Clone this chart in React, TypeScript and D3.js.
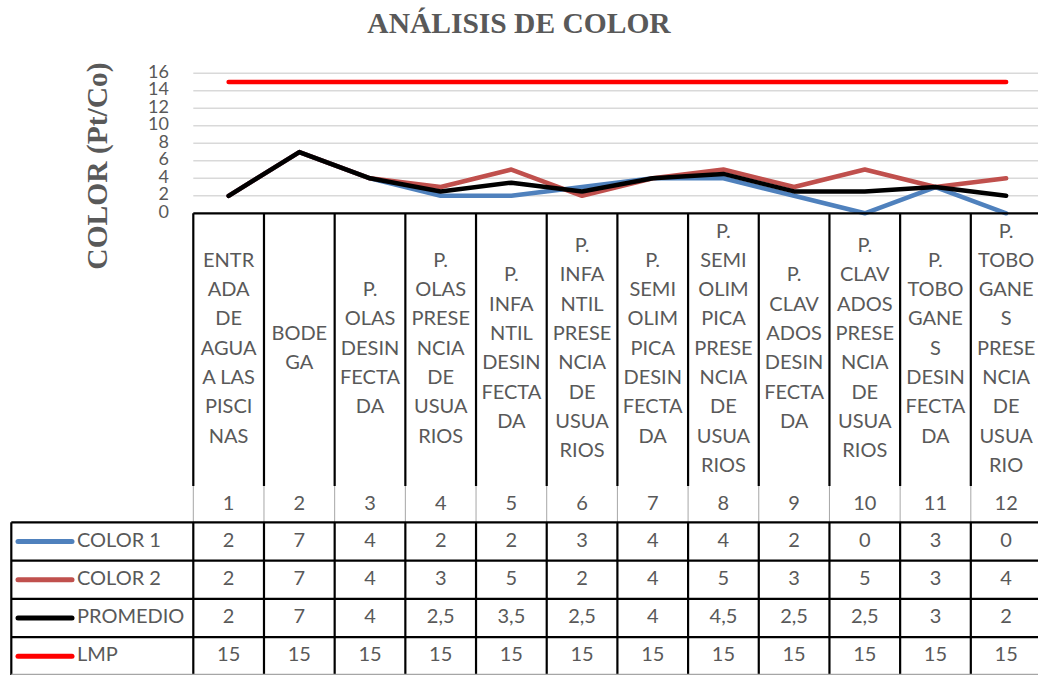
import * as d3 from 'd3';

const title = 'ANÁLISIS DE COLOR';
const yTitle = 'COLOR (Pt/Co)';

const ids = ['1', '2', '3', '4', '5', '6', '7', '8', '9', '10', '11', '12'];
const categoryLines = [
  ['ENTR', 'ADA', 'DE', 'AGUA', 'A LAS', 'PISCI', 'NAS'],
  ['BODE', 'GA'],
  ['P.', 'OLAS', 'DESIN', 'FECTA', 'DA'],
  ['P.', 'OLAS', 'PRESE', 'NCIA', 'DE', 'USUA', 'RIOS'],
  ['P.', 'INFA', 'NTIL', 'DESIN', 'FECTA', 'DA'],
  ['P.', 'INFA', 'NTIL', 'PRESE', 'NCIA', 'DE', 'USUA', 'RIOS'],
  ['P.', 'SEMI', 'OLIM', 'PICA', 'DESIN', 'FECTA', 'DA'],
  ['P.', 'SEMI', 'OLIM', 'PICA', 'PRESE', 'NCIA', 'DE', 'USUA', 'RIOS'],
  ['P.', 'CLAV', 'ADOS', 'DESIN', 'FECTA', 'DA'],
  ['P.', 'CLAV', 'ADOS', 'PRESE', 'NCIA', 'DE', 'USUA', 'RIOS'],
  ['P.', 'TOBO', 'GANE', 'S', 'DESIN', 'FECTA', 'DA'],
  ['P.', 'TOBO', 'GANE', 'S', 'PRESE', 'NCIA', 'DE', 'USUA', 'RIO'],
];

const color1 = [2, 7, 4, 2, 2, 3, 4, 4, 2, 0, 3, 0];
const color2 = [2, 7, 4, 3, 5, 2, 4, 5, 3, 5, 3, 4];
const promedio = [2, 7, 4, 2.5, 3.5, 2.5, 4, 4.5, 2.5, 2.5, 3, 2];
const lmp = [15, 15, 15, 15, 15, 15, 15, 15, 15, 15, 15, 15];

const seriesNames = ['COLOR 1', 'COLOR 2', 'PROMEDIO', 'LMP'];
const seriesColors = ['#4F81BD', '#C0504D', '#000000', '#FF0000'];
const seriesValues = [color1, color2, promedio, lmp];

const yTicks = [0, 2, 4, 6, 8, 10, 12, 14, 16];

const W = 1038;
const H = 675;
const FONT = 'Lato, "Open Sans", sans-serif';
const SERIF = '"Liberation Serif", "Times New Roman", serif';
const GRAY = '#595959';

export default function App() {
  const plotLeft = 193.3;
  const plotRight = 1041.5;
  const plotTop = 73.3;
  const plotBottom = 213.3;
  const catBottom = 486;
  const headBottom = 522.3;
  const rowH = 38.3;
  const tableLeft = 11.3;
  const lineH = 29.3;

  const x = d3.scaleBand<string>().domain(ids).range([plotLeft, plotRight]);
  const y = d3.scaleLinear().domain([0, 16]).range([plotBottom, plotTop]);
  const cx = (i: number) => (x(ids[i]) as number) + x.bandwidth() / 2;

  const line = d3.line<number>()
    .x((_, i) => cx(i))
    .y((d) => y(d));

  const edges = ids.map((id) => x(id) as number).concat([plotRight]);
  const catMid = (plotBottom + catBottom) / 2;

  // decimal comma like the source sheet
  const fmt = (v: number) => String(v).replace('.', ',');

  return (
    <div style={{ position: 'fixed', left: 0, top: 0 }}>
      <svg width={W} height={H} style={{ display: 'block', background: '#fff' }}>
        <text x={519} y={33} textAnchor="middle" fontFamily={SERIF}
          fontWeight="bold" fontSize={29.5} fill={GRAY}>{title}</text>
        <text transform={`translate(107,166) rotate(-90)`} textAnchor="middle"
          fontFamily={SERIF} fontWeight="bold" fontSize={29.5} fill={GRAY}>
          {yTitle}
        </text>

        {yTicks.map((t) => (
          <g key={t}>
            {t > 0 && (
              <line x1={plotLeft} x2={W} y1={y(t)} y2={y(t)} stroke="#d9d9d9" strokeWidth={1.5} />
            )}
            <text x={169} y={y(t)} textAnchor="end" dominantBaseline="middle" fontFamily={FONT}
              fontSize={18} fill={GRAY}>{t}</text>
          </g>
        ))}

        {seriesValues.map((vals, si) => (
          <path key={si} d={line(vals) || ''} fill="none" stroke={seriesColors[si]} strokeWidth={4.5}
            strokeLinejoin="round" strokeLinecap="round" />
        ))}

        {/* data table grid */}
        <g stroke="#000" strokeWidth={2.2}>
          <line x1={plotLeft} x2={W} y1={plotBottom} y2={plotBottom} />
          {edges.map((ex, i) => (
            <g key={i}>
              <line x1={ex} x2={ex} y1={plotBottom} y2={catBottom} />
              <line x1={ex} x2={ex} y1={catBottom} y2={headBottom} stroke="#a6a6a6" strokeWidth={1} />
              <line x1={ex} x2={ex} y1={headBottom} y2={H} />
            </g>
          ))}
          <line x1={tableLeft} x2={tableLeft} y1={headBottom} y2={H} />
          {seriesNames.map((_, ri) => (
            <line key={ri} x1={tableLeft} x2={W} y1={headBottom + ri * rowH} y2={headBottom + ri * rowH} />
          ))}
          <line x1={tableLeft} x2={W} y1={headBottom + 4 * rowH - 1} y2={headBottom + 4 * rowH - 1}
            stroke="#a6a6a6" strokeWidth={1.5} />
        </g>

        {categoryLines.map((lines, i) => (
          <g key={i}>
            {lines.map((ln, li) => (
              <text key={li} x={cx(i)} y={catMid + (li - (lines.length - 1) / 2) * lineH}
                textAnchor="middle" dominantBaseline="middle" fontFamily={FONT} fontSize={20} fill={GRAY}>
                {ln}
              </text>
            ))}
            <text x={cx(i)} y={(catBottom + headBottom) / 2 + 1} textAnchor="middle" dominantBaseline="middle"
              fontFamily={FONT} fontSize={20} fill={GRAY}>{ids[i]}</text>
          </g>
        ))}

        {seriesNames.map((name, ri) => {
          const ry = headBottom + (ri + 0.5) * rowH;
          return (
            <g key={name}>
              <line x1={18} x2={72} y1={ry} y2={ry} stroke={seriesColors[ri]} strokeWidth={5}
                strokeLinecap="round" />
              <text x={77} y={ry} dominantBaseline="middle" fontFamily={FONT} fontSize={20} fill={GRAY}>
                {name}
              </text>
              {seriesValues[ri].map((v, i) => (
                <text key={i} x={cx(i)} y={ry} textAnchor="middle" dominantBaseline="middle"
                  fontFamily={FONT} fontSize={20} fill={GRAY}>{fmt(v)}</text>
              ))}
            </g>
          );
        })}
      </svg>
    </div>
  );
}
